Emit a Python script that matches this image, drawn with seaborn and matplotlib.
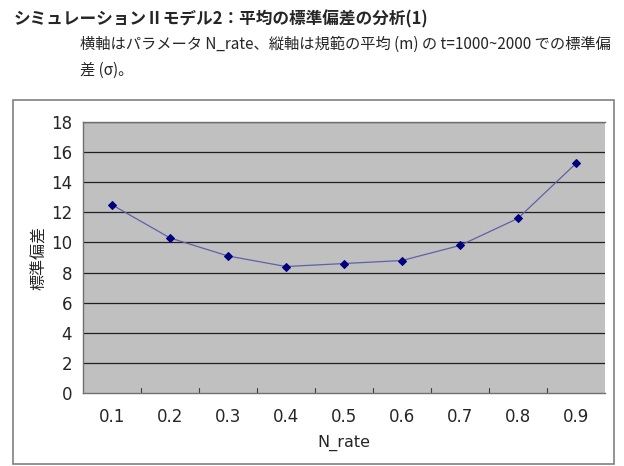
import matplotlib
matplotlib.use("Agg")
import matplotlib.pyplot as plt
import seaborn as sns
from matplotlib.patches import Rectangle

categories = ["0.1", "0.2", "0.3", "0.4", "0.5", "0.6", "0.7", "0.8", "0.9"]
std_values = [12.5, 10.3, 9.1, 8.4, 8.6, 8.8, 9.8, 11.6, 15.25]
y_ticks = [0, 2, 4, 6, 8, 10, 12, 14, 16, 18]

title_line1 = "シミュレーションⅡモデル2：平均の標準偏差の分析(1)"
title_line2 = "横軸はパラメータ N_rate、縦軸は規範の平均 (m) の t=1000~2000 での標準偏"
title_line3 = "差 (σ)。"
x_label = "N_rate"
y_label = "標準偏差"

sns.set_theme(style="white")
plt.rcParams['font.family'] = ['DejaVu Sans', 'Noto Sans CJK JP']

W, H = 624, 466
fig = plt.figure(figsize=(W / 100, H / 100), dpi=100)
ax = fig.add_axes([83 / W, 1 - 393 / H, (605 - 83) / W, (393 - 122) / H])
ax.set_facecolor("#C0C0C0")

sns.lineplot(x=categories, y=std_values, ax=ax, color="#6060A8", linewidth=0.9,
             marker="D", markersize=4.5, markerfacecolor="#000080",
             markeredgecolor="#000080", sort=False)

ax.set_xlim(-0.5, len(categories) - 0.5)
ax.set_ylim(0, 18)
ax.set_yticks(y_ticks)
ax.set_yticklabels([str(t) for t in y_ticks], fontsize=12)
ax.set_xticks(range(len(categories)))
ax.set_xticklabels(categories, fontsize=12)
ax.tick_params(axis="x", length=0, pad=11)
ax.tick_params(axis="y", length=3, direction="out", color="#606060", pad=5)
for k in range(1, len(categories)):
    ax.plot([k - 0.5, k - 0.5], [0, 0.35], color="#404040", lw=0.8, clip_on=False)
for t in y_ticks[1:]:
    ax.axhline(t, color="#202020", lw=0.9, zorder=0.5)

for side in ["left", "bottom", "top"]:
    ax.spines[side].set_color("#707070")
    ax.spines[side].set_linewidth(1.0)
ax.spines["right"].set_visible(False)

ax.set_xlabel(x_label, fontsize=11.5, labelpad=6)
ax.set_ylabel(y_label, fontsize=11.5, family=['Noto Sans CJK JP'], labelpad=2)

fig.patches.append(Rectangle((13 / W, 1 - 464 / H), (614 - 13) / W, (464 - 100) / H,
                             transform=fig.transFigure, fill=False,
                             edgecolor="#808080", linewidth=1.2))

cjk = ['Noto Sans CJK JP', 'DejaVu Sans']
fig.text(14 / W, 1 - 19 / H, title_line1, fontsize=12, fontweight="bold",
         family=cjk, va="center", ha="left")
fig.text(80 / W, 1 - 44 / H, title_line2, fontsize=11, family=cjk,
         va="center", ha="left")
fig.text(80 / W, 1 - 70 / H, title_line3, fontsize=11, family=cjk,
         va="center", ha="left")

fig.savefig("out.png", dpi=100)
